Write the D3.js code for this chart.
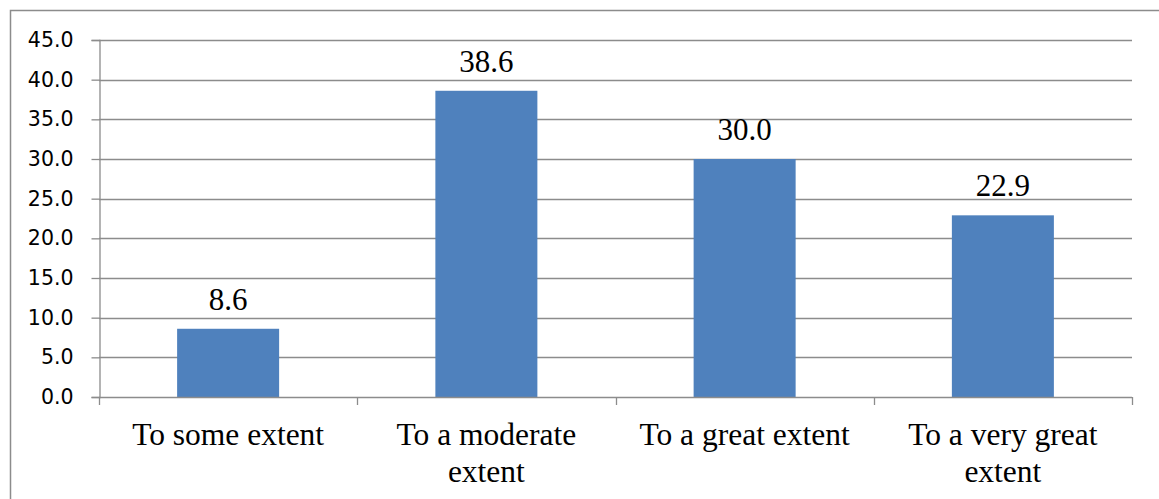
<!DOCTYPE html>
<html>
<head>
<meta charset="utf-8">
<script src="https://cdn.jsdelivr.net/npm/d3@7"></script>
<style>
  html, body { margin: 0; padding: 0; background: #fff; }
  svg { display: block; }
</style>
</head>
<body>
<svg id="chart" width="1159" height="499"></svg>
<script>
const categories = ["To some extent", "To a moderate extent", "To a great extent", "To a very great extent"];
const values = [8.6, 38.6, 30.0, 22.9];
const yTicks = [0, 5, 10, 15, 20, 25, 30, 35, 40, 45];

(function () {
const svg = d3.select("#chart");
const mLeft = 99, mRight = 1132, mTop = 40, mBottom = 397;
const gridColor = "#8c8c8c";

// outer border
svg.append("rect")
  .attr("x", 10.5).attr("y", 10.5)
  .attr("width", 1160).attr("height", 500)
  .attr("fill", "none").attr("stroke", "#8c8c8c").attr("stroke-width", 1.5);

const x = d3.scaleBand().domain(categories).range([mLeft, mRight]).paddingInner(0.605).paddingOuter(0.3025);
const y = d3.scaleLinear().domain([0, 45]).range([mBottom, mTop]);

// gridlines
svg.append("g")
  .selectAll("line").data(yTicks.filter(d => d > 0)).join("line")
  .attr("x1", mLeft).attr("x2", mRight)
  .attr("y1", d => Math.round(y(d)) + 0.5).attr("y2", d => Math.round(y(d)) + 0.5)
  .attr("stroke", gridColor).attr("stroke-width", 1.3);

// y axis
const yAxis = svg.append("g").attr("transform", `translate(${mLeft + 0.5},0)`)
  .call(d3.axisLeft(y).tickValues(yTicks).tickFormat(d3.format(".1f")).tickSize(8).tickPadding(18));
yAxis.select(".domain").attr("stroke", gridColor).attr("stroke-width", 1.3);
yAxis.selectAll(".tick line").attr("stroke", gridColor).attr("stroke-width", 1.3);
yAxis.selectAll(".tick text")
  .attr("font-family", "'DejaVu Sans', sans-serif").attr("font-size", 20.5).attr("fill", "#000");

// bars
svg.append("g").selectAll("rect").data(values).join("rect")
  .attr("x", (d, i) => x(categories[i]))
  .attr("width", x.bandwidth())
  .attr("y", d => y(d))
  .attr("height", d => y(0) - y(d))
  .attr("fill", "#4F81BD");

// x axis line and ticks
const step = x.step();
const boundaries = d3.range(categories.length + 1).map(i => mLeft + i * step);
svg.append("line")
  .attr("x1", mLeft).attr("x2", mRight)
  .attr("y1", mBottom + 0.5).attr("y2", mBottom + 0.5)
  .attr("stroke", gridColor).attr("stroke-width", 1.3);
svg.append("g").selectAll("line").data(boundaries).join("line")
  .attr("x1", d => Math.round(d) + 0.5).attr("x2", d => Math.round(d) + 0.5)
  .attr("y1", mBottom).attr("y2", mBottom + 8)
  .attr("stroke", gridColor).attr("stroke-width", 1.3);

// data labels
svg.append("g").selectAll("text").data(values).join("text")
  .attr("x", (d, i) => x(categories[i]) + x.bandwidth() / 2)
  .attr("y", d => y(d) - 19)
  .attr("text-anchor", "middle")
  .attr("font-family", "'Liberation Serif', 'Times New Roman', serif")
  .attr("font-size", 31)
  .attr("fill", "#000")
  .text(d => d3.format(".1f")(d));

// category labels with wrapping
const catG = svg.append("g");
categories.forEach((c, i) => {
  const cx = x(c) + x.bandwidth() / 2;
  const t = catG.append("text")
    .attr("x", cx).attr("y", 445)
    .attr("text-anchor", "middle")
    .attr("font-family", "'Liberation Serif', 'Times New Roman', serif")
    .attr("font-size", 31.5)
    .attr("fill", "#000");
  const words = c.split(" ");
  let lines = [], line = [];
  const probe = t.append("tspan").attr("x", cx);
  words.forEach(w => {
    const test = line.concat([w]).join(" ");
    probe.text(test);
    if (probe.node().getComputedTextLength() > step - 10 && line.length) {
      lines.push(line.join(" "));
      line = [w];
    } else {
      line.push(w);
    }
  });
  lines.push(line.join(" "));
  probe.remove();
  lines.forEach((l, j) => {
    t.append("tspan").attr("x", cx).attr("dy", j === 0 ? 0 : 37).text(l);
  });
});
})();
</script>
</body>
</html>
